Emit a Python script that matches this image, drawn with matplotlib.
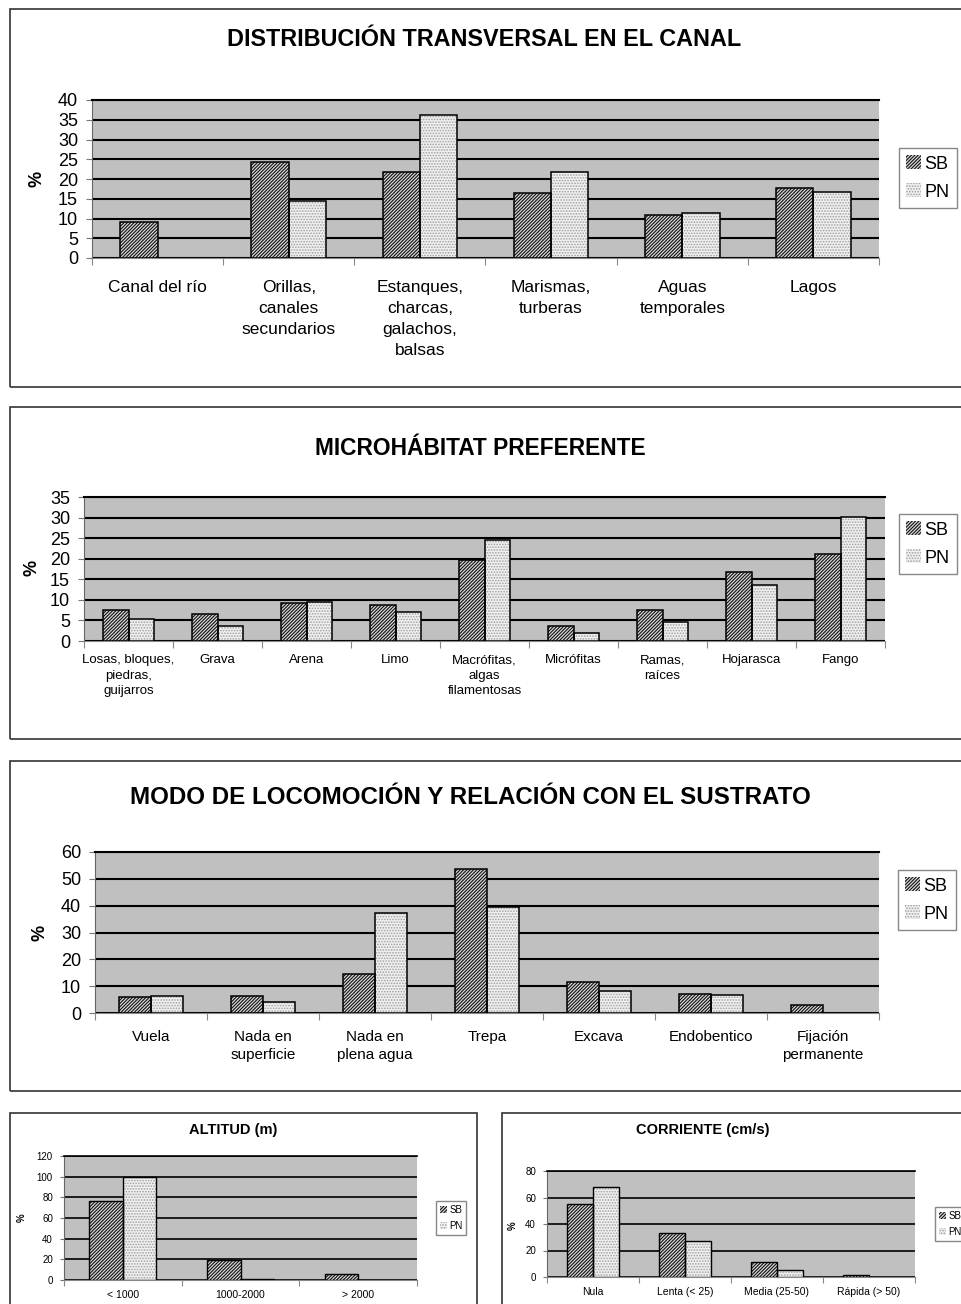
import numpy as np
import matplotlib.pyplot as plt
from matplotlib.patches import Rectangle, Patch

plt.rcParams['font.family'] = ['Liberation Sans', 'DejaVu Sans']
plt.rcParams['hatch.linewidth'] = 0.8

W, H = 961, 1304

# ---- data ----
canal_cats = ['Canal del río', 'Orillas,\ncanales\nsecundarios',
              'Estanques,\ncharcas,\ngalachos,\nbalsas', 'Marismas,\nturberas',
              'Aguas\ntemporales', 'Lagos']
canal_sb = [9.1, 24.4, 21.7, 16.5, 11.0, 17.6]
canal_pn = [0, 14.4, 36.2, 21.7, 11.3, 16.7]

micro_cats = ['Losas, bloques,\npiedras,\nguijarros', 'Grava', 'Arena', 'Limo',
              'Macrófitas,\nalgas\nfilamentosas', 'Micrófitas', 'Ramas,\nraíces',
              'Hojarasca', 'Fango']
micro_sb = [7.6, 6.6, 9.2, 8.7, 19.8, 3.6, 7.5, 16.8, 21.2]
micro_pn = [5.4, 3.6, 9.6, 7.0, 24.6, 2.0, 4.5, 13.5, 30.1]

loco_cats = ['Vuela', 'Nada en\nsuperficie', 'Nada en\nplena agua', 'Trepa',
             'Excava', 'Endobentico', 'Fijación\npermanente']
loco_sb = [6.0, 6.2, 14.5, 53.7, 11.4, 7.2, 2.9]
loco_pn = [6.3, 4.1, 37.3, 39.4, 8.3, 6.6, 0]

alt_cats = ['< 1000', '1000-2000', '> 2000']
alt_sb = [76.1, 19.0, 5.8]
alt_pn = [99.7, 0.6, 0]

corr_cats = ['Nula', 'Lenta (< 25)', 'Media (25-50)', 'Rápida (> 50)']
corr_sb = [55.1, 33.3, 11.0, 1.8]
corr_pn = [67.9, 27.1, 5.0, 0]

series_names = ['SB', 'PN']

SB_HATCH = '//////////'
PN_HATCH = '......'


def fx(x):
    return x / W


def fy(y):
    return 1 - y / H


def panel(fig, box, axpx, title, title_xy, title_fs, cats, sb, pn, ymax, ystep,
          tick_fs, xlab_fs, xpad, lspace, leg_xy, leg_fs, pct_xy, pct_fs,
          bar_lw=1.1, grid_lw=1.5, tick_len=4):
    x0, y0, x1, y1 = box
    fig.patches.append(Rectangle((fx(x0), fy(y1)), fx(x1 - x0), (y1 - y0) / H,
                                 transform=fig.transFigure, fill=False,
                                 edgecolor='#333333', lw=1.2))
    ax0, ay0, ax1, ay1 = axpx
    ax = fig.add_axes([fx(ax0), fy(ay1), fx(ax1 - ax0), (ay1 - ay0) / H])
    ax.set_facecolor('#c0c0c0')
    n = len(cats)
    x = np.arange(n)
    w = 0.285
    sb = np.array(sb, dtype=float)
    pn = np.array(pn, dtype=float)
    msb = sb > 0
    mpn = pn > 0
    # SB: dense dark diagonal hatch
    ax.bar(x[msb] - w / 2, sb[msb], w, color='#d8d8d8', edgecolor='#111111',
           hatch=SB_HATCH, lw=0, zorder=3)
    ax.bar(x[msb] - w / 2, sb[msb], w, fill=False, edgecolor='black',
           lw=bar_lw, zorder=4)
    # PN: light with fine dots
    ax.bar(x[mpn] + w / 2, pn[mpn], w, color='#f0f0f0', edgecolor='#a0a0a0',
           hatch=PN_HATCH, lw=0, zorder=3)
    ax.bar(x[mpn] + w / 2, pn[mpn], w, fill=False, edgecolor='black',
           lw=bar_lw, zorder=4)

    ax.set_xlim(-0.5, n - 0.5)
    ax.set_ylim(0, ymax)
    ax.set_yticks(np.arange(0, ymax + 0.1, ystep))
    ax.yaxis.grid(True, color='black', lw=grid_lw)
    ax.set_axisbelow(True)
    ax.tick_params(axis='y', labelsize=tick_fs, length=tick_len, color='#777777',
                   pad=tick_len + 2)
    ax.set_xticks(np.arange(-0.5, n, 1.0))
    ax.set_xticklabels([])
    ax.tick_params(axis='x', which='major', length=tick_len + 1, color='#888888')
    ax.set_xticks(x, minor=True)
    ax.set_xticklabels(cats, minor=True, fontsize=xlab_fs, linespacing=lspace,
                       va='top')
    ax.tick_params(axis='x', which='minor', length=0, pad=xpad)
    for s in ['top', 'right']:
        ax.spines[s].set_visible(False)
    ax.spines['left'].set_color('#666666')
    ax.spines['bottom'].set_color('#888888')
    ax.axhline(ymax, color='black', lw=grid_lw, zorder=5, clip_on=False)

    fig.text(fx(title_xy[0]), fy(title_xy[1]), title, ha='center', va='center',
             fontsize=title_fs, fontweight='bold')
    fig.text(fx(pct_xy[0]), fy(pct_xy[1]), '%', ha='center', va='center',
             rotation=90, fontsize=pct_fs, fontweight='bold')

    handles = [Patch(facecolor='#d8d8d8', edgecolor='#111111', hatch=SB_HATCH, lw=0),
               Patch(facecolor='#f0f0f0', edgecolor='#a0a0a0', hatch=PN_HATCH, lw=0)]
    leg = ax.legend(handles, series_names, loc='center',
                    bbox_to_anchor=(fx(leg_xy[0]), fy(leg_xy[1])),
                    bbox_transform=fig.transFigure, fontsize=leg_fs,
                    fancybox=False, edgecolor='#888888', framealpha=1,
                    handlelength=0.8, handleheight=0.8, handletextpad=0.2,
                    labelspacing=0.6, borderpad=0.4, borderaxespad=0)
    leg.get_frame().set_linewidth(1.0)
    return ax


fig = plt.figure(figsize=(W / 100, H / 100), dpi=100)

panel(fig, (10, 9, 980, 387), (92, 100, 879, 258),
      'DISTRIBUCIÓN TRANSVERSAL EN EL CANAL', (484, 39), 16.8,
      canal_cats, canal_sb, canal_pn, 40, 5,
      13, 12.5, 15.5, 1.5, (928, 178), 13, (37, 179), 13)

panel(fig, (10, 407, 980, 739), (84, 497, 885, 641),
      'MICROHÁBITAT PREFERENTE', (480, 449), 16.4,
      micro_cats, micro_sb, micro_pn, 35, 5,
      13, 9.5, 9.5, 1.4, (928, 544), 13, (32, 568), 13)

panel(fig, (10, 761, 980, 1091), (95, 852, 879, 1013),
      'MODO DE LOCOMOCIÓN Y RELACIÓN CON EL SUSTRATO', (470, 797), 17.4,
      loco_cats, loco_sb, loco_pn, 60, 10,
      13, 11, 12, 1.35, (927, 900), 13, (40, 933), 13)

panel(fig, (10, 1113, 477, 1330), (64, 1156, 417, 1280),
      'ALTITUD (m)', (233, 1130), 10.5,
      alt_cats, alt_sb, alt_pn, 120, 20,
      7, 7.5, 7, 1.2, (451, 1218), 7, (22, 1218), 7,
      bar_lw=1.0, grid_lw=1.2, tick_len=3)

panel(fig, (502, 1113, 990, 1330), (547, 1171, 915, 1277),
      'CORRIENTE (cm/s)', (703, 1130), 10.5,
      corr_cats, corr_sb, corr_pn, 80, 20,
      7, 7.5, 7, 1.2, (950, 1224), 7, (513, 1226), 7,
      bar_lw=1.0, grid_lw=1.2, tick_len=3)

fig.savefig('out.png', dpi=100, facecolor='white')
